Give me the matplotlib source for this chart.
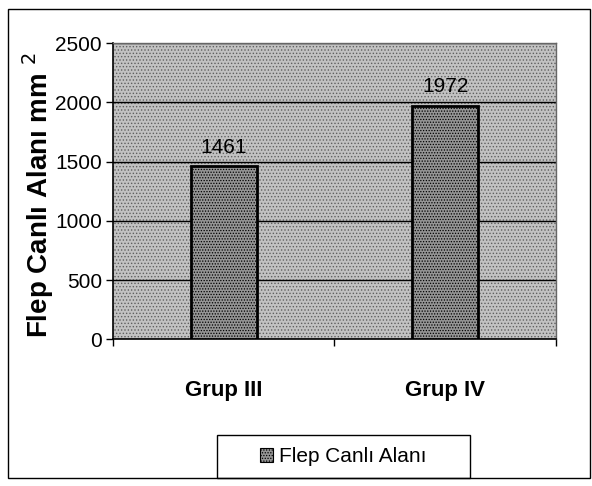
import matplotlib.pyplot as plt
from matplotlib.patches import Rectangle

plt.rcParams['font.family'] = ['Liberation Sans', 'DejaVu Sans']
plt.rcParams['hatch.linewidth'] = 0.6

groups = ['Grup III', 'Grup IV']
values = [1461, 1972]
series_name = 'Flep Canlı Alanı'
y_ticks = [0, 500, 1000, 1500, 2000, 2500]

fig = plt.figure(figsize=(5.92, 4.86), dpi=100)
fig.patch.set_facecolor('white')

# outer chart frame
fig.patches.append(Rectangle((0.014, 0.016), 0.982, 0.966, transform=fig.transFigure,
                             fill=False, edgecolor='black', linewidth=1.0))
# legend box
fig.patches.append(Rectangle((0.367, 0.016), 0.427, 0.088, transform=fig.transFigure,
                             fill=False, edgecolor='black', linewidth=1.0))

ax = fig.add_axes([0.191, 0.302, 0.748, 0.609])
ax.set_facecolor('#c2c2c2')
ax.patch.set_hatch('.....')
ax.patch.set_edgecolor('#606060')

x = list(range(len(groups)))
bars = ax.bar(x, values, width=0.3, color='#959595', edgecolor='black', hatch='......',
              linewidth=2.0, label=series_name, zorder=3)

for xi, v in zip(x, values):
    ax.text(xi, v + 80, str(v), ha='center', va='bottom', fontsize=15, zorder=4)

ax.set_xlim(-0.5, 1.5)
ax.set_ylim(0, 2500)
ax.set_yticks(y_ticks)
ax.tick_params(axis='y', labelsize=15, length=5, width=1, pad=3)
ax.yaxis.grid(True, color='black', linewidth=1.0, zorder=1)
ax.set_axisbelow(True)

ax.set_xticks(x)
ax.set_xticklabels(groups, fontsize=16, fontweight='bold')
ax.tick_params(axis='x', length=0, pad=29)
# category boundary ticks
ax.set_xticks([-0.5, 0.5, 1.5], minor=True)
ax.tick_params(axis='x', which='minor', length=5, width=1)

for side in ['left', 'bottom']:
    ax.spines[side].set_color('black')
    ax.spines[side].set_linewidth(1.2)
for side in ['top', 'right']:
    ax.spines[side].set_color('#666666')
    ax.spines[side].set_linewidth(1.0)

ax.set_ylabel('Flep Canlı Alanı mm $^{2}$', fontsize=20, fontweight='bold', labelpad=1)
ax.yaxis.set_label_coords(-0.13, 0.485)

leg = fig.legend(handles=[bars], labels=[series_name], loc='center',
                 bbox_to_anchor=(0.58, 0.06), frameon=False,
                 fontsize=15, handlelength=0.6, handleheight=0.6, handletextpad=0.3)
leg.legend_handles[0].set_linewidth(0.8)

fig.savefig('out.png', dpi=100)
